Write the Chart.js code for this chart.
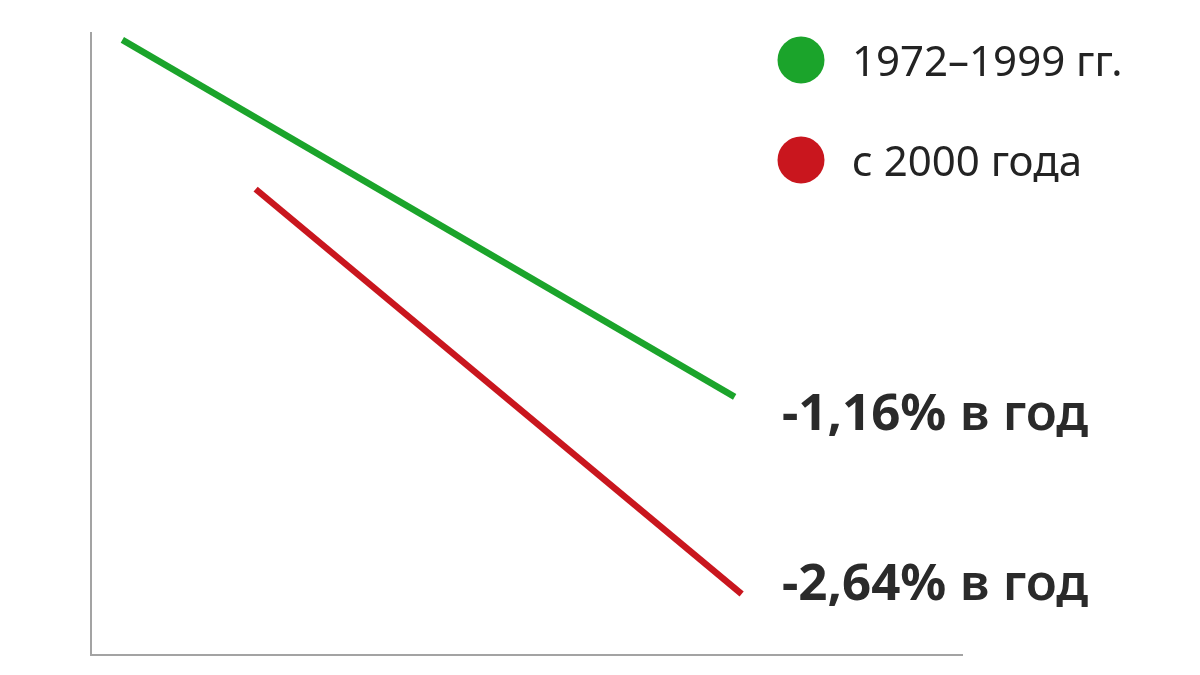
<!DOCTYPE html>
<html>
<head>
<meta charset="utf-8">
<script src="https://cdn.jsdelivr.net/npm/chart.js@4"></script>
<style>
    html, body { margin: 0; padding: 0; background: #fff; }
    #wrap { width: 1200px; height: 675px; }
</style>
</head>
<body>
<div id="wrap"><canvas id="trendChart"></canvas></div>
<script>
    // series: start and end of each trend line (abstract 0..100 units)
    const seriesNames = ['1972–1999 гг.', 'с 2000 года'];
    const seriesColors = ['#1ba42b', '#c9161e'];
    const greenX = [3.6, 73.9];
    const greenY = [98.9, 41.5];
    const redX = [18.9, 74.7];
    const redY = [74.9, 9.8];
    const rateLabels = ['-1,16%', '-2,64%'];
    const rateSuffix = ' в год';

    function toPoints(xs, ys) {
        return xs.map((x, i) => ({ x: x, y: ys[i] }));
    }

    const sideTextPlugin = {
        id: 'sideText',
        afterDraw(chart) {
            const ctx = chart.ctx;
            ctx.save();

            // legend
            const legendY = [60, 160];
            for (let i = 0; i < seriesNames.length; i++) {
                ctx.beginPath();
                ctx.arc(801, legendY[i], 23.5, 0, Math.PI * 2);
                ctx.fillStyle = seriesColors[i];
                ctx.fill();

                ctx.fillStyle = '#232323';
                ctx.font = '400 42px "Noto Sans"';
                ctx.textBaseline = 'alphabetic';
                ctx.textAlign = 'left';
                ctx.fillText(seriesNames[i], 852, legendY[i] + 16);
            }

            // rate annotations
            const rateY = [430, 600];
            for (let i = 0; i < rateLabels.length; i++) {
                ctx.fillStyle = '#2a2a2a';
                ctx.font = '700 51px "Noto Sans"';
                ctx.fillText(rateLabels[i], 782, rateY[i]);
                const w = ctx.measureText(rateLabels[i]).width;
                ctx.font = '600 51px "Noto Sans"';
                ctx.fillText(rateSuffix, 782 + w, rateY[i]);
            }

            ctx.restore();
        }
    };

    const trendData = {
        datasets: [{
            label: seriesNames[0],
            data: toPoints(greenX, greenY),
            borderColor: seriesColors[0],
            borderWidth: 6.5,
            pointRadius: 0
        }, {
            label: seriesNames[1],
            data: toPoints(redX, redY),
            borderColor: seriesColors[1],
            borderWidth: 6.5,
            pointRadius: 0
        }]
    };

    const trendConfig = {
        type: 'line',
        data: trendData,
        options: {
            responsive: true,
            maintainAspectRatio: false,
            animation: false,
            layout: {
                padding: { top: 33, left: 83, right: 238, bottom: 12 }
            },
            plugins: {
                legend: { display: false },
                tooltip: { enabled: false }
            },
            scales: {
                x: {
                    type: 'linear',
                    min: 0,
                    max: 100,
                    grid: { display: false },
                    ticks: { display: false },
                    border: { display: true, color: '#a3a3a3', width: 2 }
                },
                y: {
                    type: 'linear',
                    min: 0,
                    max: 100,
                    grid: { display: false },
                    ticks: { display: false },
                    border: { display: true, color: '#a3a3a3', width: 2 }
                }
            }
        },
        plugins: [sideTextPlugin]
    };

    const myChart = new Chart(
        document.getElementById('trendChart'),
        trendConfig
    );
</script>
</body>
</html>
